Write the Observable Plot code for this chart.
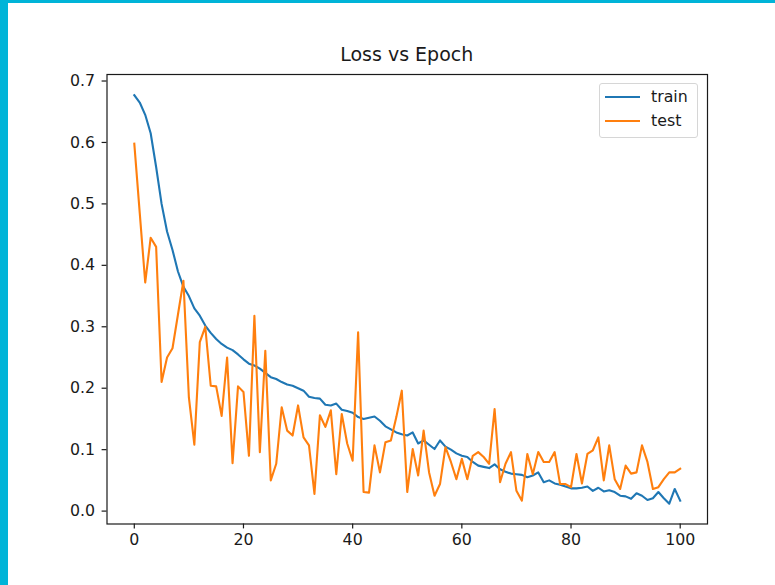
<!DOCTYPE html>
<html>
<head>
<meta charset="utf-8">
<script src="https://cdn.jsdelivr.net/npm/d3@7"></script>
<script src="https://cdn.jsdelivr.net/npm/@observablehq/plot@0.6"></script>
<style>
  body { margin: 0; background: #fff; }
  #wrap { position: relative; width: 775px; height: 585px; overflow: hidden; background: #fff; font-family: "DejaVu Sans", sans-serif; }
  #barL { position: absolute; left: 0; top: 0; width: 8px; height: 585px; background: rgb(0,180,216); }
  #barT { position: absolute; left: 0; top: 0; width: 775px; height: 3px; background: rgb(0,180,216); }
  #chart { position: absolute; left: 0; top: 0; }
  #title { position: absolute; left: 106.5px; width: 600.5px; top: 43px; text-align: center; font-size: 19px; line-height: 22px; color: #1a1a1a; }
  #legend { position: absolute; left: 599px; top: 83px; width: 99px; height: 55px; border: 1px solid #d6d6d6; border-radius: 3px; background: rgba(255,255,255,0.8); box-sizing: border-box; }
  .row { position: absolute; left: 0; height: 20px; }
  .sw { position: absolute; left: 5px; top: 9px; width: 35px; height: 2px; }
  .lab { position: absolute; left: 51px; top: 0; font-size: 15.8px; line-height: 20px; color: #1a1a1a; white-space: nowrap; }
</style>
</head>
<body>
<div id="wrap">
  <div id="barL"></div>
  <div id="barT"></div>
  <div id="chart"></div>
  <div id="title">Loss vs Epoch</div>
  <div id="legend">
    <div class="row" style="top:3px"><div class="sw" style="background:#1f77b4"></div><div class="lab">train</div></div>
    <div class="row" style="top:27px"><div class="sw" style="background:#ff7f0e"></div><div class="lab">test</div></div>
  </div>
</div>
<script>
const seriesNames = ["train", "test"];
const seriesColors = ["#1f77b4", "#ff7f0e"];
const xTicks = [0, 20, 40, 60, 80, 100];
const yTicks = [0.0, 0.1, 0.2, 0.3, 0.4, 0.5, 0.6, 0.7];

const train = [
  0.677, 0.665, 0.645, 0.615, 0.560, 0.500, 0.455, 0.425, 0.390, 0.365,
  0.350, 0.330, 0.318, 0.302, 0.290, 0.280, 0.272, 0.266, 0.262, 0.255,
  0.247, 0.240, 0.237, 0.232, 0.225, 0.218, 0.215, 0.210, 0.206, 0.204,
  0.200, 0.196, 0.186, 0.184, 0.183, 0.173, 0.172, 0.175, 0.165, 0.163,
  0.160, 0.153, 0.150, 0.152, 0.154, 0.147, 0.138, 0.133, 0.128, 0.125,
  0.123, 0.128, 0.110, 0.115, 0.108, 0.101, 0.115, 0.105, 0.100, 0.094,
  0.090, 0.088, 0.080, 0.074, 0.072, 0.070, 0.076, 0.068, 0.064, 0.061,
  0.060, 0.059, 0.055, 0.058, 0.063, 0.047, 0.050, 0.045, 0.043, 0.040,
  0.037, 0.037, 0.038, 0.040, 0.033, 0.038, 0.032, 0.034, 0.031, 0.025,
  0.024, 0.020, 0.029, 0.025, 0.018, 0.021, 0.031, 0.021, 0.012, 0.036,
  0.017
];

const test = [
  0.598, 0.485, 0.372, 0.445, 0.430, 0.210, 0.250, 0.265, 0.320, 0.375,
  0.185, 0.108, 0.275, 0.300, 0.204, 0.203, 0.155, 0.250, 0.078, 0.203,
  0.194, 0.090, 0.318, 0.096, 0.261, 0.050, 0.077, 0.169, 0.131, 0.123,
  0.172, 0.120, 0.107, 0.028, 0.156, 0.137, 0.164, 0.060, 0.158, 0.110,
  0.082, 0.291, 0.031, 0.030, 0.107, 0.063, 0.112, 0.115, 0.153, 0.196,
  0.031, 0.101, 0.058, 0.131, 0.063, 0.025, 0.044, 0.104, 0.080, 0.052,
  0.085, 0.052, 0.090, 0.096, 0.088, 0.077, 0.166, 0.047, 0.077, 0.096,
  0.033, 0.017, 0.093, 0.060, 0.096, 0.080, 0.080, 0.096, 0.044, 0.044,
  0.039, 0.093, 0.045, 0.093, 0.099, 0.120, 0.050, 0.107, 0.052, 0.036,
  0.074, 0.061, 0.063, 0.107, 0.080, 0.036, 0.039, 0.052, 0.063, 0.063,
  0.069
];

const epochs = train.map((_, i) => i);

const rows = [];
epochs.forEach((e, i) => {
  rows.push({epoch: e, loss: train[i], series: seriesNames[0]});
});
epochs.forEach((e, i) => {
  rows.push({epoch: e, loss: test[i], series: seriesNames[1]});
});

const chart = Plot.plot({
  width: 775,
  height: 585,
  marginLeft: 106.5,
  marginRight: 68,
  marginTop: 74,
  marginBottom: 61.5,
  style: {fontFamily: "DejaVu Sans, sans-serif", fontSize: "15.8px", color: "#1a1a1a", background: "transparent", overflow: "visible"},
  x: {domain: [-5, 105], label: null},
  y: {domain: [-0.021, 0.7106], label: null},
  color: {domain: seriesNames, range: seriesColors},
  marks: [
    Plot.line(rows, {x: "epoch", y: "loss", z: "series", stroke: "series", strokeWidth: 2.1, strokeLinejoin: "round", strokeLinecap: "square"}),
    Plot.frame({stroke: "#1a1a1a", strokeWidth: 1.2}),
    Plot.axisX({ticks: xTicks, tickSize: 4.9, tickPadding: 5, tickFormat: d3.format("d"), fontSize: 15.8, strokeWidth: 1.2, label: null}),
    Plot.axisY({ticks: yTicks, tickSize: 4.9, tickPadding: 7, tickFormat: d3.format(".1f"), fontSize: 15.8, strokeWidth: 1.2, label: null})
  ]
});
document.getElementById("chart").appendChild(chart);
</script>
</body>
</html>
